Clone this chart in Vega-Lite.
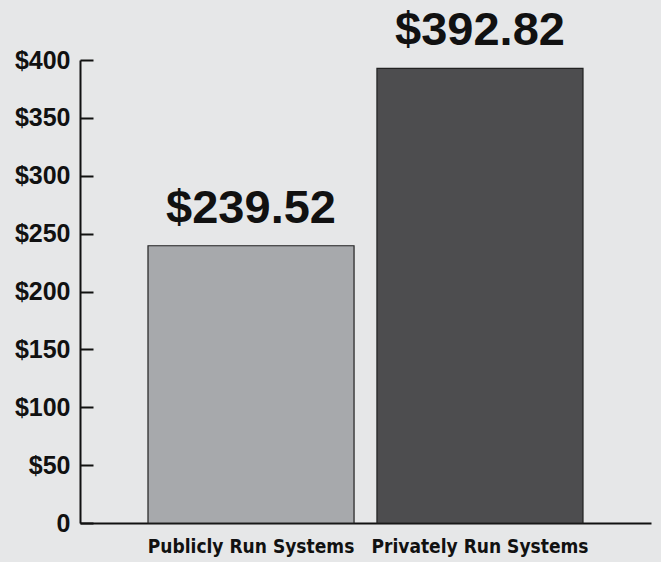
{
  "$schema": "https://vega.github.io/schema/vega-lite/v6.json",
  "autosize": {"type": "none"},
  "padding": {"left": 80, "top": 60, "right": 10, "bottom": 39},
  "width": 571,
  "height": 463,
  "background": "#e6e7e8",
  "config": {"view": {"stroke": null}},
  "data": {"values": [
    {"system": "Publicly Run Systems", "cost": 239.52, "label": "$239.52"},
    {"system": "Privately Run Systems", "cost": 392.82, "label": "$392.82"}
  ]},
  "encoding": {
    "x": {
      "field": "system", "type": "nominal", "sort": null,
      "scale": {"paddingInner": 0.1, "paddingOuter": 0.297},
      "axis": {
        "title": null, "labelAngle": 0, "ticks": false, "labelLimit": 0,
        "domainColor": "#111111", "domainWidth": 2,
        "labelFont": "DejaVu Sans Condensed, sans-serif",
        "labelFontWeight": "bold", "labelFontSize": 19, "labelColor": "#111111",
        "labelPadding": 14
      }
    }
  },
  "resolve": {"axis": {"y": "independent"}},
  "layer": [
    {
      "mark": {"type": "bar", "stroke": "#222222", "strokeWidth": 1.2},
      "encoding": {
        "y": {
          "field": "cost", "type": "quantitative",
          "scale": {"domain": [0, 400], "nice": false},
          "axis": {
            "orient": "left", "title": null, "values": [0, 50, 100, 150, 200, 250, 300, 350, 400],
            "labelExpr": "datum.value == 0 ? '0' : '$' + datum.value",
            "grid": false, "ticks": false,
            "domainColor": "#111111", "domainWidth": 2,
            "labelFont": "Liberation Sans, Arial, sans-serif",
            "labelFontWeight": "bold", "labelFontSize": 25, "labelColor": "#111111",
            "labelPadding": 10
          }
        },
        "color": {
          "field": "system", "type": "nominal", "legend": null,
          "scale": {"domain": ["Publicly Run Systems", "Privately Run Systems"], "range": ["#a7a9ac", "#4d4d4f"]}
        }
      }
    },
    {
      "mark": {"type": "text", "baseline": "alphabetic", "dy": -23, "font": "Liberation Sans, Arial, sans-serif", "fontWeight": "bold", "fontSize": 47, "color": "#111111"},
      "encoding": {
        "y": {
          "field": "cost", "type": "quantitative",
          "axis": {
            "orient": "left", "title": null, "values": [0, 50, 100, 150, 200, 250, 300, 350, 400],
            "labels": false, "domain": false, "grid": false,
            "ticks": true, "tickSize": 13, "tickWidth": 2, "tickColor": "#111111",
            "offset": -13
          }
        },
        "text": {"field": "label"}
      }
    }
  ]
}
